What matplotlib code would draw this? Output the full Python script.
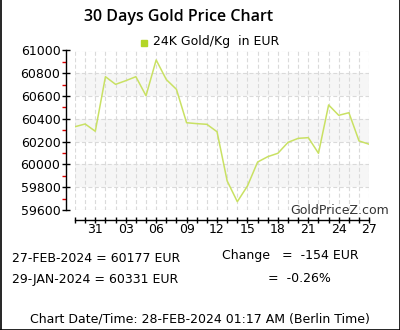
import numpy as np
import matplotlib
matplotlib.use('Agg')
import matplotlib.pyplot as plt
from matplotlib.lines import Line2D

# 30 days, 29-JAN-2024 .. 27-FEB-2024 (EUR per kg)
day_labels = ['29', '30', '31', '01', '02', '03', '04', '05', '06', '07',
              '08', '09', '10', '11', '12', '13', '14', '15', '16', '17',
              '18', '19', '20', '21', '22', '23', '24', '25', '26', '27']
prices = [60331, 60355, 60291, 60770, 60703, 60735, 60770, 60603, 60917, 60745,
          60659, 60366, 60358, 60352, 60287, 59855, 59673, 59811, 60021, 60068,
          60098, 60194, 60229, 60235, 60098, 60522, 60431, 60454, 60206, 60177]
ymin, ymax = 59600, 61000
bands = [(59800, 60000), (60200, 60400), (60600, 60800)]

line_col = '#c9e163'
plt.rcParams['font.family'] = 'DejaVu Sans'
plt.rcParams['font.size'] = 9

W, H = 400, 330
fig = plt.figure(figsize=(4.0, 3.3), dpi=100)

def fx(px):
    return px / W

def fy(py):
    return 1 - py / H

ax = fig.add_axes([fx(75), fy(210), fx(369.2) - fx(75), fy(50.5) - fy(210)])
x = np.arange(len(prices))

for lo, hi in bands:
    ax.axhspan(lo, hi, color='#f6f6f6', lw=0, zorder=0)

dash = (0, (3.6, 2.2))
for xi in x:
    ax.axvline(xi, color='#dadada', lw=0.8, ls=dash, zorder=1)
for yv in range(ymin, ymax + 1, 200):
    ax.axhline(yv, color='#dadada', lw=0.8, ls=dash, zorder=1)

ax.plot(x, prices, color=line_col, lw=1.1, zorder=3)

ax.set_xlim(0, len(prices) - 1)
ax.set_ylim(ymin, ymax)

for s in ['top', 'right']:
    ax.spines[s].set_visible(False)
ax.spines['left'].set_position(('outward', 6.5))
ax.spines['bottom'].set_position(('outward', 7.2))
ax.spines['left'].set_bounds(ymin, ymax)
ax.spines['bottom'].set_bounds(0, len(prices) - 1)
ax.spines['left'].set_linewidth(1.0)
ax.spines['bottom'].set_linewidth(1.0)

ax.set_yticks(range(ymin, ymax + 1, 200))
ax.set_yticks(range(ymin + 100, ymax, 200), minor=True)
ax.tick_params(axis='y', which='major', direction='inout', length=6, width=1,
               labelsize=9, pad=1)
ax.tick_params(axis='y', which='minor', direction='out', length=3, width=1,
               color='#dd0000')

ax.set_xticks(x)
ax.set_xticklabels([lab if i % 3 == 2 else '' for i, lab in enumerate(day_labels)])
ax.tick_params(axis='x', which='major', direction='inout', length=5, width=1,
               labelsize=9, pad=0)

# title and legend
fig.text(fx(179), fy(17), '30 Days Gold Price Chart', ha='center', va='center',
         fontsize=11.5, fontweight='semibold', family='Open Sans')
fig.patches.append(plt.Rectangle((fx(141), fy(46)), fx(6), fy(40) - fy(46),
                                 transform=fig.transFigure, color='#b3d627',
                                 figure=fig))
fig.text(fx(153), fy(42), '24K Gold/Kg  in EUR', ha='left', va='center', fontsize=9)
fig.text(fx(389), fy(210), 'GoldPriceZ.com', ha='right', va='center', fontsize=9,
         color='#333333')

# summary
fig.text(fx(12), fy(258), '27-FEB-2024 = 60177 EUR', ha='left', va='center', fontsize=9)
fig.text(fx(12), fy(279), '29-JAN-2024 = 60331 EUR', ha='left', va='center', fontsize=9)
fig.text(fx(222), fy(256), 'Change   =  -154 EUR', ha='left', va='center', fontsize=9)
fig.text(fx(268), fy(279), '=  -0.26%', ha='left', va='center', fontsize=9)
fig.text(fx(200), fy(319), 'Chart Date/Time: 28-FEB-2024 01:17 AM (Berlin Time)',
         ha='center', va='center', fontsize=9)

# outer frame (left, right, bottom)
for xs, ys in [([0.5, 0.5], [0, H]), ([W - 0.5, W - 0.5], [0, H]),
               ([0, W], [H - 0.5, H - 0.5])]:
    fig.add_artist(Line2D([fx(v) for v in xs], [fy(v) for v in ys],
                          transform=fig.transFigure, color='black', lw=1.2))

fig.savefig('out.png', dpi=100)
